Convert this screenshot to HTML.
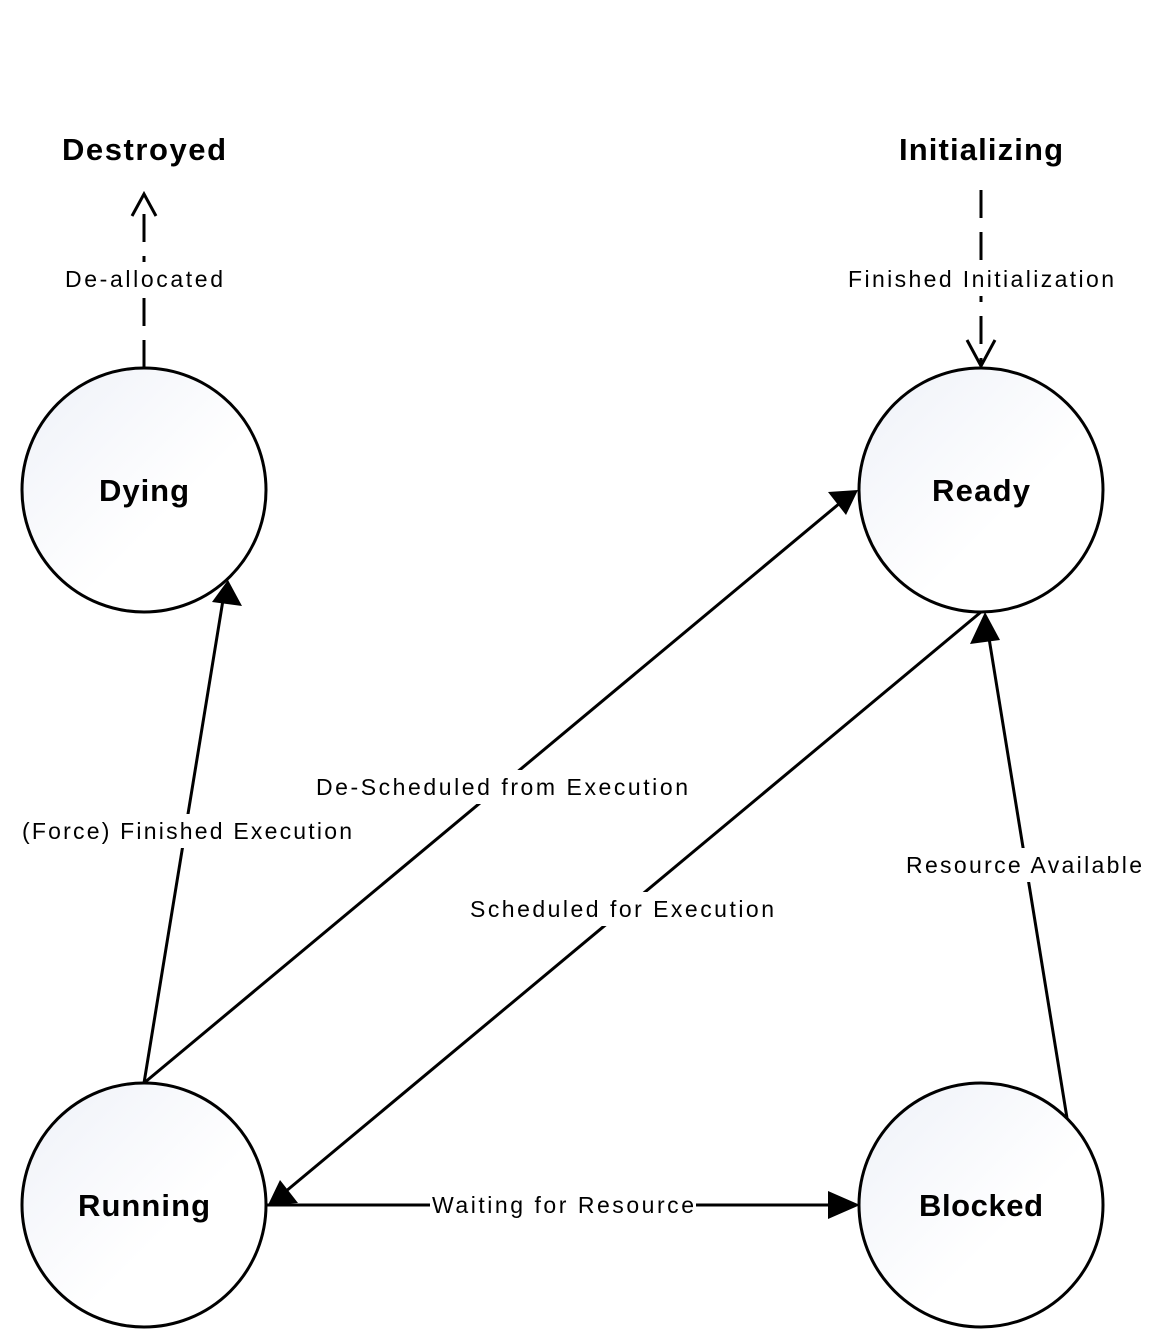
<!DOCTYPE html>
<html><head><style>html,body{margin:0;padding:0;background:#fff}</style></head><body>
<svg width="1165" height="1330" viewBox="0 0 1165 1330" xmlns="http://www.w3.org/2000/svg" font-family="Liberation Sans, sans-serif">
<defs>
<linearGradient id="g" x1="0" y1="0" x2="1" y2="1"><stop offset="0" stop-color="#eef1f8"/><stop offset="0.6" stop-color="#ffffff"/></linearGradient>
</defs>
<g stroke="#000" stroke-width="3" fill="none">
<line x1="144" y1="368" x2="144" y2="200" stroke-dasharray="28,14"/>
<path d="M132,216L144,194L156,216"/>
<line x1="981" y1="190" x2="981" y2="366" stroke-dasharray="28,14"/>
<path d="M967,340L981,366L995,340"/>
</g>
<g stroke="#000" stroke-width="3">
<line x1="144" y1="1083" x2="223" y2="600"/>
<line x1="144" y1="1083" x2="840" y2="503"/>
<line x1="981" y1="612" x2="285" y2="1192"/>
<line x1="1067" y1="1118" x2="988" y2="632"/>
<line x1="266" y1="1205" x2="832" y2="1205"/>
</g>
<g fill="#000">
<polygon points="228,580 242,606 212,602"/>
<polygon points="858,490 846,515 828,492"/>
<polygon points="268,1205 280,1180 298,1203"/>
<polygon points="985,612 1000,640 970,644"/>
<polygon points="860,1205 828,1191 828,1219"/>
</g>
<g fill="url(#g)" stroke="#000" stroke-width="3">
<circle cx="144" cy="490" r="122"/>
<circle cx="981" cy="490" r="122"/>
<circle cx="144" cy="1205" r="122"/>
<circle cx="981" cy="1205" r="122"/>
</g>
<g font-weight="bold" font-size="31" text-anchor="middle">
<text x="144" y="160" textLength="164">Destroyed</text>
<text x="981" y="160" textLength="164">Initializing</text>
<text x="144" y="501" textLength="90">Dying</text>
<text x="981" y="501" textLength="98">Ready</text>
<text x="144" y="1216" textLength="132">Running</text>
<text x="981" y="1216" textLength="124">Blocked</text>
</g>
<g font-size="23" text-anchor="middle">
<rect x="60" y="262" width="168" height="34" fill="#fff"/>
<text x="144" y="287" textLength="158">De-allocated</text>
<rect x="845" y="262" width="272" height="34" fill="#fff"/>
<text x="981" y="287" textLength="266">Finished Initialization</text>
<rect x="20" y="814" width="334" height="34" fill="#fff"/>
<text x="187" y="839" textLength="330">(Force) Finished Execution</text>
<rect x="312" y="770" width="380" height="34" fill="#fff"/>
<text x="502" y="795" textLength="372">De-Scheduled from Execution</text>
<rect x="466" y="892" width="312" height="34" fill="#fff"/>
<text x="622" y="917" textLength="304">Scheduled for Execution</text>
<rect x="902" y="848" width="244" height="34" fill="#fff"/>
<text x="1024" y="873" textLength="236">Resource Available</text>
<rect x="430" y="1190" width="266" height="30" fill="#fff"/>
<text x="563" y="1213" textLength="262">Waiting for Resource</text>
</g>
</svg>
</body></html>
